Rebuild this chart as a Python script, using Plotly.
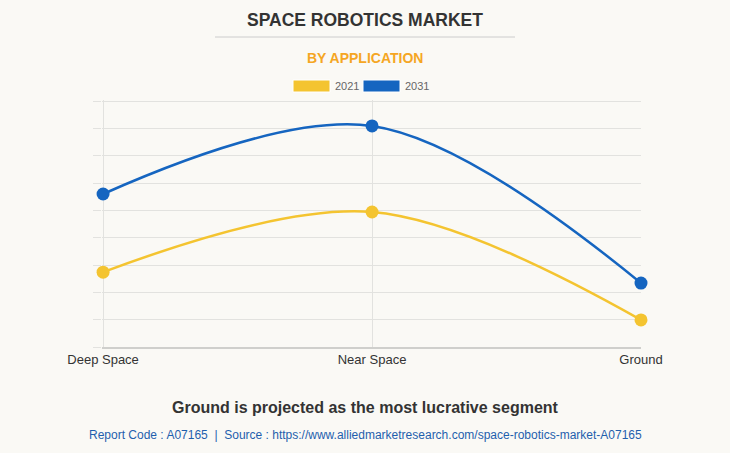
import plotly.graph_objects as go

categories = ["Deep Space", "Near Space", "Ground"]
values_2021 = [2.74, 4.94, 0.99]
values_2031 = [5.6, 8.09, 2.34]
series_names = ["2021", "2031"]
colors = ["#F4C430", "#1565C0"]

W, H = 730, 453
L, R, T, B = 102, 89, 100, 106

fig = go.Figure()
for name, vals, col in zip(series_names, [values_2021, values_2031], colors):
    fig.add_trace(go.Scatter(
        x=categories, y=vals, name=name, mode="lines+markers",
        line=dict(color=col, width=2.5, shape="spline", smoothing=1.0),
        marker=dict(color=col, size=13),
        showlegend=False, cliponaxis=False,
    ))


def px(xp):
    return (xp - L) / (W - L - R)


def py(yp):
    return (H - B - yp) / (H - T - B)


annos = [
    dict(text="<b>SPACE ROBOTICS MARKET</b>", x=px(365), y=py(20), xref="paper", yref="paper",
         showarrow=False, font=dict(size=17.5, color="#333333"), xanchor="center", yanchor="middle"),
    dict(text="<b>BY APPLICATION</b>", x=px(365), y=py(58), xref="paper", yref="paper",
         showarrow=False, font=dict(size=14, color="#F5A623"), xanchor="center", yanchor="middle"),
    dict(text="<b>Ground is projected as the most lucrative segment</b>", x=px(365), y=py(407),
         xref="paper", yref="paper", showarrow=False, font=dict(size=16, color="#333333"),
         xanchor="center", yanchor="middle"),
    dict(text="Report Code : A07165  |  Source : https://www.alliedmarketresearch.com/space-robotics-market-A07165",
         x=px(365), y=py(435), xref="paper", yref="paper", showarrow=False,
         font=dict(size=12, color="#1F5FAD"), xanchor="center", yanchor="middle"),
]

shapes = [dict(type="line", xref="paper", yref="paper", x0=px(215), x1=px(515), y0=py(37), y1=py(37),
               line=dict(color="#CCCCCC", width=1))]
leg_x = [293, 363]
for name, col, lx in zip(series_names, colors, leg_x):
    shapes.append(dict(type="rect", xref="paper", yref="paper", x0=px(lx), x1=px(lx + 37),
                       y0=py(92), y1=py(80), fillcolor=col, line=dict(color="#FFFFFF", width=1)))
    annos.append(dict(text=name, x=px(lx + 40), y=py(86), xref="paper", yref="paper", showarrow=False,
                      font=dict(size=11, color="#666666"), xanchor="left", yanchor="middle"))

bg = "#FAF9F5"
grid = "#E2E2DF"
fig.update_layout(
    width=W, height=H, paper_bgcolor=bg, plot_bgcolor=bg,
    margin=dict(l=L, r=R, t=T, b=B),
    font=dict(family="Arial, Liberation Sans, sans-serif", color="#333333"),
    xaxis=dict(type="category", range=[-0.004, 2], showgrid=True, gridcolor=grid,
               gridwidth=1, showline=True, linecolor="#CFCFCC", linewidth=1.5,
               ticks="", tickfont=dict(size=13, color="#333333"), zeroline=False),
    yaxis=dict(range=[0, 9.04], dtick=1, showgrid=True, gridcolor=grid,
               gridwidth=1, showticklabels=False, ticks="outside", ticklen=8,
               tickcolor=grid, zeroline=False, showline=False, fixedrange=True),
    showlegend=False,
    annotations=annos,
    shapes=shapes,
)

fig.write_html(
    "out.html",
    config={"displayModeBar": False},
    post_script="document.body.style.margin='0';document.body.style.padding='0';",
)
